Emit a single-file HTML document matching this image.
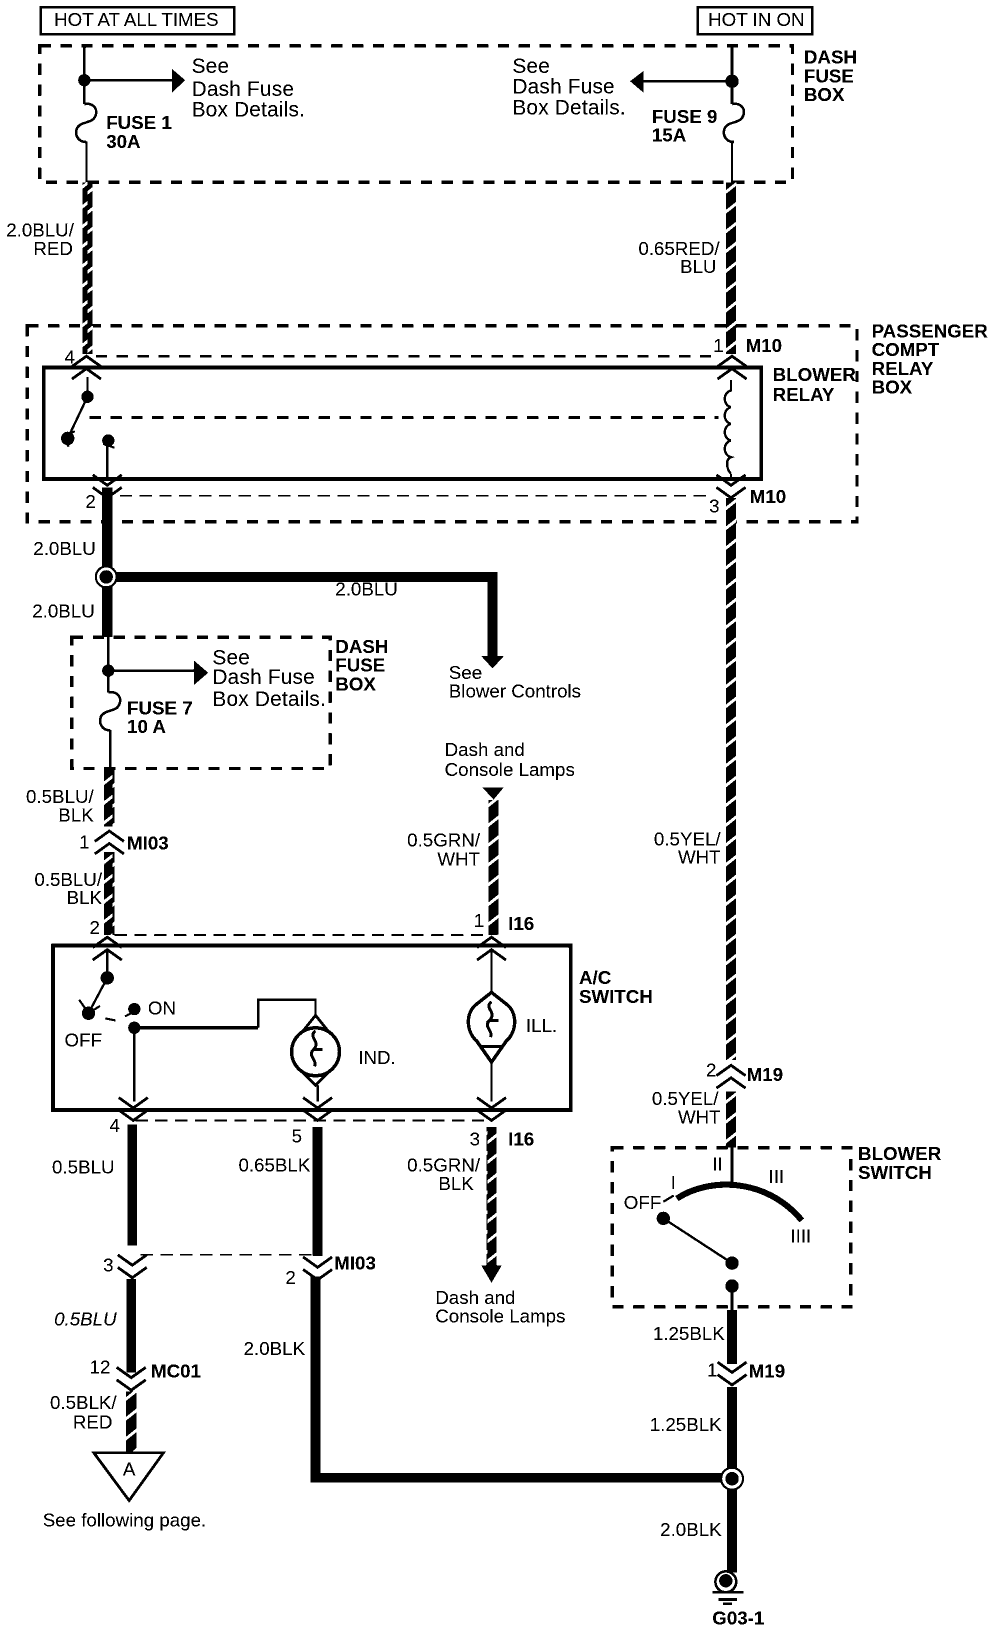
<!DOCTYPE html>
<html><head><meta charset="utf-8"><style>
html,body{margin:0;padding:0;background:#fff}
svg{display:block}
text{font-family:"Liberation Sans",sans-serif;font-size:18px;fill:#000;stroke:#000;stroke-width:.2}
.b{font-weight:bold}
.r{text-anchor:end}
.big{font-size:20px;letter-spacing:.2px}
</style></head><body>
<svg width="1008" height="1632" viewBox="0 0 968 1567.2" xmlns="http://www.w3.org/2000/svg">
<defs>
<filter id="bw" x="0" y="0" width="100%" height="100%" color-interpolation-filters="sRGB">
<feComponentTransfer><feFuncR type="discrete" tableValues="0 1 1"/><feFuncG type="discrete" tableValues="0 1 1"/><feFuncB type="discrete" tableValues="0 1 1"/></feComponentTransfer>
</filter>
<pattern id="tw" width="12" height="19" patternUnits="userSpaceOnUse">
<rect width="12" height="19" fill="#000"/><path d="M-1 15L13 4" stroke="#fff" stroke-width="2.6"/>
</pattern>
<path id="fuse" d="M0 0c9-2 15 6 9 14c-3 4-13 3-16 9c-3 7 2 14 9 13" fill="none" stroke="#000" stroke-width="2.6"/>
<path id="up" d="M-14 10L0 0L14 10M-14 22L0 12L14 22" fill="none" stroke="#000" stroke-width="2.8"/>
<path id="dn" d="M-14 0L0 10L14 0M-14 12L0 22L14 12" fill="none" stroke="#000" stroke-width="2.8"/>
</defs>
<g filter="url(#bw)">
<rect width="968" height="1568" fill="#fff"/>

<!-- header boxes -->
<rect x="39" y="7" width="186" height="26" fill="none" stroke="#000" stroke-width="2.4"/>
<text x="52" y="25">HOT AT ALL TIMES</text>
<rect x="670" y="7" width="110" height="26" fill="none" stroke="#000" stroke-width="2.4"/>
<text x="680" y="25">HOT IN ON</text>

<!-- dashed boxes -->
<g fill="none" stroke="#000" stroke-width="3.4" stroke-dasharray="11 9">
<rect x="38" y="44" width="723" height="131"/>
<rect x="26" y="313" width="797" height="188"/>
<rect x="69" y="612" width="248" height="126"/>
<rect x="588" y="1102" width="229" height="153"/>
<path d="M92 342H690M86 401H690" stroke-width="2.8"/>
</g>
<g fill="none" stroke="#000" stroke-width="1.9" stroke-dasharray="12 7">
<path d="M115 476H680M110 898H465M130 1076H470M135 1205H300"/>
</g>

<!-- relay and switch boxes -->
<rect x="42" y="353" width="689" height="107" fill="none" stroke="#000" stroke-width="3.8"/>
<rect x="51" y="908" width="497" height="158" fill="none" stroke="#000" stroke-width="3.8"/>

<!-- twisted wires -->
<g fill="url(#tw)">
<rect x="79" y="175" width="10" height="165"/>
<rect x="697" y="175" width="10" height="165"/>
<rect x="697" y="478" width="10" height="540"/>
<rect x="697" y="1048" width="10" height="54"/>
<rect x="100" y="738" width="10" height="56"/>
<rect x="100" y="818" width="10" height="80"/>
<rect x="469" y="768" width="10" height="130"/>
<rect x="467" y="1082" width="10" height="134"/>
<rect x="121" y="1336" width="10" height="60"/>
</g>

<!-- solid wires -->
<g stroke="#000" fill="none">
<path d="M103 468V612M102 554H473V630" stroke-width="10"/>
<path d="M127 1080V1196M126 1228V1318M305 1082V1206M303 1226V1419M298 1419H704M703 1258V1310M703 1332V1510" stroke-width="9.500"/>
<path d="M81 44V100M703 44V100M104 612V665M703 1100V1135M703 1235V1258" stroke-width="2.8"/>
<path d="M83 136V175M703 136V175M106 701V738" stroke-width="2.4"/>
<path d="M84 362V381L65 421M103 423V462M103 912V939M103 939L85 973M129 987V1058M303 975V960H248V987M305 1042V1058M472 912V953M472 1020V1058M637 1170L703 1213" stroke-width="2.400"/>
<path d="M129 987H248" stroke-width="3.400"/>
<path d="M702 365V376M702 455V462" stroke-width="2.200"/>
<path d="M81 77H166M703 78H616M104 644H188" stroke-width="2.400"/>
<path d="M72 414L60 420M66 429L60 420M76 960L85 973M85 973L96 966" stroke-width="2.200"/>
<path d="M650 1151C680 1131 735 1130 770 1172" stroke-width="6"/>
<path d="M637 1154L647 1148" stroke-width="2.200"/>
<path d="M99 426L110 430M101 978L111 980M120 976L126 973" stroke-width="2.200"/>
</g>

<!-- arrowheads -->
<path d="M165 66L178 77L165 89Z"/>
<path d="M605 78L618 68V89Z"/>
<path d="M186 634L200 646L186 658Z"/>
<path d="M462 630H484L473 642Z"/>
<path d="M463 756H484L474 768Z"/>
<path d="M462 1215H482L472 1232Z"/>

<!-- fuses, coil -->
<use href="#fuse" x="81" y="100"/>
<use href="#fuse" x="703" y="100"/>
<use href="#fuse" x="104" y="665"/>
<path d="M702 375c-8 2-8 14 0 16c-8 2-8 14 0 16c-8 2-8 14 0 16c-8 2-8 14 0 16c-6 2-4 12 0 16" fill="none" stroke="#000" stroke-width="2.400"/>

<!-- dots -->
<g>
<circle cx="81" cy="77" r="6"/><circle cx="703" cy="78" r="6.500"/><circle cx="104" cy="644" r="6"/>
<circle cx="84" cy="381" r="6"/><circle cx="65" cy="421" r="6.500"/><circle cx="104" cy="423" r="6"/>
<circle cx="103" cy="939" r="6.500"/><circle cx="85" cy="973" r="6.500"/><circle cx="129" cy="969" r="6"/><circle cx="129" cy="987" r="6"/>
<circle cx="637" cy="1170" r="6.500"/><circle cx="703" cy="1213" r="6.500"/><circle cx="703" cy="1235" r="6.500"/>
</g>

<!-- splices -->
<circle cx="102" cy="554" r="10" fill="#fff" stroke="#000" stroke-width="2.200"/><circle cx="102" cy="554" r="6.500"/>
<circle cx="703" cy="1420" r="10.500" fill="#fff" stroke="#000" stroke-width="2.200"/><circle cx="703" cy="1420" r="6.500"/>

<!-- chevrons -->
<g>
<rect x="90" y="795" width="30" height="16" fill="#fff"/>
<rect x="692" y="1020" width="24" height="24" fill="#fff"/>
<use href="#up" x="83" y="342"/>
<use href="#up" x="703" y="342"/>
<use href="#dn" x="103" y="456"/>
<use href="#dn" x="702" y="456"/>
<use href="#up" x="105" y="798"/>
<use href="#up" x="103" y="900"/>
<use href="#up" x="472" y="900"/>
<use href="#dn" x="128" y="1054"/>
<use href="#dn" x="305" y="1054"/>
<use href="#dn" x="472" y="1054"/>
<use href="#dn" x="127" y="1205"/>
<use href="#dn" x="305" y="1207"/>
<use href="#dn" x="126" y="1313"/>
<use href="#up" x="702" y="1023"/>
<use href="#dn" x="703" y="1308"/>
</g>

<!-- bulbs -->
<g fill="none" stroke="#000">
<circle cx="303" cy="1010" r="23" stroke-width="3.400"/>
<path d="M291 990L303 975L315 990M291 1030L303 1042L315 1030" stroke-width="2.800"/>
<path d="M303 990c-8 6 6 10-2 18h9h-9c-6 6 4 10 1 16" stroke-width="3"/>
<path d="M472 953L486 964C497 972 497 990 486 1000L472 1020L458 1000C447 990 447 972 458 964Z" stroke-width="3.400"/>
<path d="M472 962c-8 6 6 10-2 18h9h-9c-6 6 4 10 1 16" stroke-width="3"/>
<path d="M461 1005H483" stroke-width="2.800"/>
</g>

<!-- triangle -->
<path d="M90 1395H157L124 1441Z" fill="#fff" stroke="#000" stroke-width="2.800"/>

<!-- ground -->
<circle cx="697" cy="1519" r="10" fill="#fff" stroke="#000" stroke-width="2.600"/>
<circle cx="697" cy="1518" r="6.500"/>
<path d="M684 1529H714M690 1536H708" stroke="#000" stroke-width="2.600"/>
<path d="M694 1540H703" stroke="#000" stroke-width="2.600"/>

<!-- labels -->
<g>
<text x="184" y="70" class="big">See</text>
<text x="184" y="92" class="big">Dash Fuse</text>
<text x="184" y="112" class="big">Box Details.</text>
<text x="492" y="70" class="big">See</text>
<text x="492" y="90" class="big">Dash Fuse</text>
<text x="492" y="110" class="big">Box Details.</text>
<text x="204" y="638" class="big">See</text>
<text x="204" y="657" class="big">Dash Fuse</text>
<text x="204" y="678" class="big">Box Details.</text>
</g>
<text x="71" y="227" class="r">2.0BLU/</text><text x="70" y="245" class="r">RED</text>
<text x="691" y="245" class="r">0.65RED/</text><text x="688" y="262" class="r">BLU</text>
<text x="92" y="533" class="r">2.0BLU</text>
<text x="91" y="593" class="r">2.0BLU</text>
<text x="322" y="572">2.0BLU</text>
<text x="431" y="652">See</text><text x="431" y="670">Blower Controls</text>
<text x="427" y="726">Dash and</text><text x="427" y="745">Console Lamps</text>
<text x="90" y="771" class="r">0.5BLU/</text><text x="90" y="789" class="r">BLK</text>
<text x="98" y="851" class="r">0.5BLU/</text><text x="98" y="868" class="r">BLK</text>
<text x="461" y="813" class="r">0.5GRN/</text><text x="461" y="831" class="r">WHT</text>
<text x="692" y="812" class="r">0.5YEL/</text><text x="692" y="829" class="r">WHT</text>
<text x="690" y="1061" class="r">0.5YEL/</text><text x="692" y="1079" class="r">WHT</text>
<text x="110" y="1127" class="r">0.5BLU</text>
<text x="298" y="1125" class="r">0.65BLK</text>
<text x="461" y="1125" class="r">0.5GRN/</text><text x="455" y="1143" class="r">BLK</text>
<text x="418" y="1252">Dash and</text><text x="418" y="1270">Console Lamps</text>
<text x="112" y="1273" class="r" font-style="italic">0.5BLU</text>
<text x="293" y="1301" class="r">2.0BLK</text>
<text x="112" y="1353" class="r">0.5BLK/</text><text x="108" y="1372" class="r">RED</text>
<text x="41" y="1466">See following page.</text>
<text x="696" y="1287" class="r">1.25BLK</text>
<text x="693" y="1374" class="r">1.25BLK</text>
<text x="693" y="1475" class="r">2.0BLK</text>
<text x="142" y="974">ON</text><text x="62" y="1005">OFF</text>
<text x="344" y="1022">IND.</text><text x="505" y="991">ILL.</text>
<text x="599" y="1161">OFF</text>
<text x="124" y="1417" text-anchor="middle">A</text>

<g>
<text x="102" y="124" class="b">FUSE 1</text><text x="102" y="142" class="b">30A</text>
<text x="626" y="118" class="b">FUSE 9</text><text x="626" y="136" class="b">15A</text>
<text x="772" y="61" class="b">DASH</text><text x="772" y="79" class="b">FUSE</text><text x="772" y="97" class="b">BOX</text>
<text x="837" y="324" class="b">PASSENGER</text><text x="837" y="342" class="b">COMPT</text><text x="837" y="360" class="b">RELAY</text><text x="837" y="378" class="b">BOX</text>
<text x="742" y="366" class="b">BLOWER</text><text x="742" y="385" class="b">RELAY</text>
<text x="716" y="338" class="b">M10</text><text x="720" y="483" class="b">M10</text>
<text x="122" y="686" class="b">FUSE 7</text><text x="122" y="704" class="b">10 A</text>
<text x="322" y="627" class="b">DASH</text><text x="322" y="645" class="b">FUSE</text><text x="322" y="663" class="b">BOX</text>
<text x="122" y="816" class="b">MI03</text>
<text x="488" y="893" class="b">I16</text><text x="488" y="1100" class="b">I16</text>
<text x="556" y="945" class="b">A/C</text><text x="556" y="963" class="b">SWITCH</text>
<text x="321" y="1219" class="b">MI03</text><text x="145" y="1323" class="b">MC01</text>
<text x="717" y="1038" class="b">M19</text><text x="719" y="1323" class="b">M19</text>
<text x="824" y="1114" class="b">BLOWER</text><text x="824" y="1132" class="b">SWITCH</text>
<text x="684" y="1560" class="b">G03-1</text>
</g>

<text x="62" y="349">4</text><text x="685" y="338">1</text>
<text x="82" y="488">2</text><text x="681" y="492">3</text>
<text x="76" y="815">1</text><text x="86" y="897">2</text><text x="455" y="890">1</text>
<text x="105" y="1087">4</text><text x="280" y="1097">5</text><text x="451" y="1100">3</text>
<text x="99" y="1221">3</text><text x="274" y="1233">2</text><text x="86" y="1319">12</text>
<text x="678" y="1034">2</text><text x="679" y="1322">1</text>
<text x="644" y="1142">I</text><text x="684" y="1124">II</text><text x="738" y="1136">III</text><text x="759" y="1193">IIII</text>
</g>
</svg>
</body></html>
